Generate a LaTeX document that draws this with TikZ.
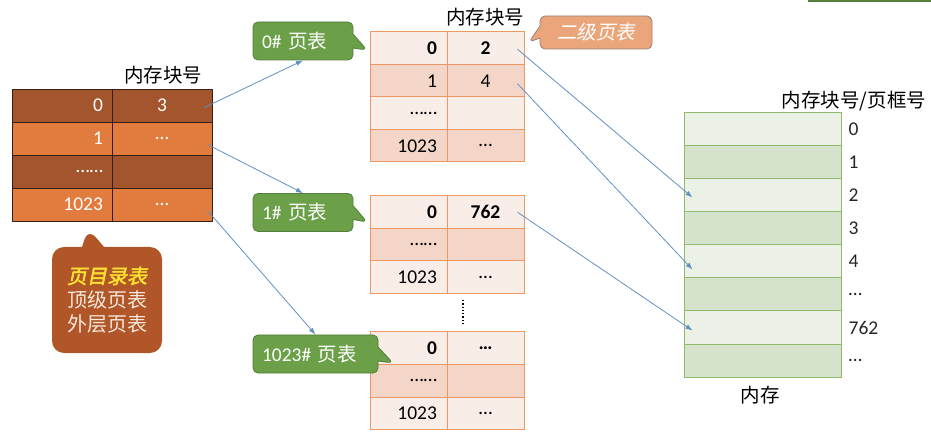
\documentclass[tikz,border=0pt]{standalone}
\usepackage{fontspec}
\setmainfont{Carlito}
\newfontfamily\cjk{Noto Sans CJK SC}
\newfontfamily\cjkslant[FakeSlant=0.2]{Noto Sans CJK SC}
\newfontfamily\cjkslantbold[FakeSlant=0.2,FakeBold=2]{Noto Sans CJK SC}
\usetikzlibrary{arrows.meta,shapes.callouts}
\definecolor{dirdark}{RGB}{163,86,46}
\definecolor{dirlight}{RGB}{225,124,62}
\definecolor{dirline}{RGB}{55,30,20}
\definecolor{dirnote}{RGB}{176,86,40}
\definecolor{notetext}{RGB}{246,232,218}
\definecolor{ylw}{RGB}{255,226,50}
\definecolor{ptlight}{RGB}{249,237,231}
\definecolor{ptdark}{RGB}{243,214,200}
\definecolor{ptline}{RGB}{237,152,98}
\definecolor{gfill}{RGB}{107,160,73}
\definecolor{gline}{RGB}{82,125,58}
\definecolor{ofill}{RGB}{234,166,122}
\definecolor{oline}{RGB}{150,130,120}
\definecolor{mlight}{RGB}{235,241,231}
\definecolor{mdark}{RGB}{214,227,204}
\definecolor{mline}{RGB}{145,186,106}
\definecolor{linkblue}{RGB}{95,145,195}

\begin{document}
\begin{tikzpicture}[x=1pt, y=-1pt, >={Latex[length=7pt,width=5pt]},
	every node/.style={font=\fontsize{19.5}{23}\selectfont},
	dircell/.style={draw=dirline, line width=0.8pt, minimum width=100pt, minimum height=33pt, inner sep=0pt, text=white},
	idx/.style={text width=82pt, align=right},
	ptcell/.style={draw=ptline, line width=1pt, minimum width=77pt, minimum height=32.5pt, inner sep=0pt},
	ptidx/.style={text width=57pt, align=right},
	mcell/.style={draw=mline, line width=1pt, minimum width=157pt, minimum height=33pt, inner sep=0pt},
	mlabel/.style={anchor=west, inner sep=0pt, text=black!85},
	gcall/.style={rectangle callout, draw=gline, fill=gfill, line width=0.8pt, rounded corners=5pt, text=white, minimum width=100pt, minimum height=38pt, inner xsep=9pt, text width=82pt, align=left, callout pointer width=14pt},
	link/.style={->, draw=linkblue, line width=0.8pt}]
	\useasboundingbox (0,0) rectangle (931,443);
	\draw[gfill!80!black, line width=2pt] (808,1) -- (931,1);

	% page directory
	\node (dhead) at (163,75) {\cjk 内存块号};
	\node[dircell, fill=dirdark, idx] (d0l) at (62,105.5) {0};
	\node[dircell, fill=dirdark] (d0r) at (162,105.5) {3};
	\node[dircell, fill=dirlight, idx] (d1l) at (62,138.5) {1};
	\node[dircell, fill=dirlight] (d1r) at (162,138.5) {…};
	\node[dircell, fill=dirdark, idx] (d2l) at (62,171.5) {……};
	\node[dircell, fill=dirdark] (d2r) at (162,171.5) {};
	\node[dircell, fill=dirlight, idx] (d3l) at (62,204.5) {1023};
	\node[dircell, fill=dirlight] (d3r) at (162,204.5) {…};
	\node[rectangle callout, fill=dirnote, rounded corners=12pt, minimum width=110pt, minimum height=106pt, align=center, text=notetext, callout absolute pointer={(88,228)}, callout pointer width=22pt, font=\fontsize{20}{24}\selectfont] (dnote) at (107,300) {{\cjkslantbold\color{ylw}页目录表}\\{\cjk 顶级页表}\\{\cjk 外层页表}};

	% page table 0
	\node (phead) at (485,17) {\cjk 内存块号};
	\node[ptcell, fill=ptlight, ptidx] (a0l) at (408.5,48.25) {\textbf{0}};
	\node[ptcell, fill=ptlight] (a0r) at (485.5,48.25) {\textbf{2}};
	\node[ptcell, fill=ptdark, ptidx] (a1l) at (408.5,80.75) {1};
	\node[ptcell, fill=ptdark] (a1r) at (485.5,80.75) {4};
	\node[ptcell, fill=ptlight, ptidx] (a2l) at (408.5,113.25) {……};
	\node[ptcell, fill=ptlight] (a2r) at (485.5,113.25) {};
	\node[ptcell, fill=ptdark, ptidx] (a3l) at (408.5,145.75) {1023};
	\node[ptcell, fill=ptdark] (a3r) at (485.5,145.75) {…};
	\node[gcall, callout absolute pointer={(367,50)}] (pt0) at (303,41) {0\# {\cjk 页表}};
	\node[rectangle callout, draw=oline, fill=ofill, line width=0.8pt, rounded corners=5pt, text=white, minimum width=112pt, minimum height=33pt, callout absolute pointer={(529,42)}, callout pointer width=12pt] (lvl2) at (596,32.5) {\cjkslant 二级页表};

	% page table 1
	\node[ptcell, fill=ptlight, ptidx] (b0l) at (408.5,212.25) {\textbf{0}};
	\node[ptcell, fill=ptlight] (b0r) at (485.5,212.25) {\textbf{762}};
	\node[ptcell, fill=ptdark, ptidx] (b1l) at (408.5,244.75) {……};
	\node[ptcell, fill=ptdark] (b1r) at (485.5,244.75) {};
	\node[ptcell, fill=ptlight, ptidx] (b2l) at (408.5,277.25) {1023};
	\node[ptcell, fill=ptlight] (b2r) at (485.5,277.25) {…};
	\node[gcall, callout absolute pointer={(367,222)}] (pt1) at (303,212.5) {1\# {\cjk 页表}};
	\draw[dotted, line width=1.3pt] (463,300) -- (463,326);

	% page table 1023
	\node[ptcell, fill=ptlight, ptidx] (c0l) at (408.5,348.25) {\textbf{0}};
	\node[ptcell, fill=ptlight] (c0r) at (485.5,348.25) {\textbf{…}};
	\node[ptcell, fill=ptdark, ptidx] (c1l) at (408.5,380.75) {……};
	\node[ptcell, fill=ptdark] (c1r) at (485.5,380.75) {};
	\node[ptcell, fill=ptlight, ptidx] (c2l) at (408.5,413.25) {1023};
	\node[ptcell, fill=ptlight] (c2r) at (485.5,413.25) {…};
	\node[gcall, minimum width=125pt, text width=107pt, callout absolute pointer={(393,363)}] (pt2) at (315.5,354) {1023\# {\cjk 页表}};

	% memory
	\node (mhead) at (854,101) {\cjk 内存块号/页框号};
	\node[mcell, fill=mlight, label={[mlabel, label distance=7pt]right:0}] (m0) at (762.5,129.5) {};
	\node[mcell, fill=mdark, label={[mlabel, label distance=7pt]right:1}] (m1) at (762.5,162.5) {};
	\node[mcell, fill=mlight, label={[mlabel, label distance=7pt]right:2}] (m2) at (762.5,195.5) {};
	\node[mcell, fill=mdark, label={[mlabel, label distance=7pt]right:3}] (m3) at (762.5,228.5) {};
	\node[mcell, fill=mlight, label={[mlabel, label distance=7pt]right:4}] (m4) at (762.5,261.5) {};
	\node[mcell, fill=mdark, label={[mlabel, label distance=7pt]right:…}] (m5) at (762.5,294.5) {};
	\node[mcell, fill=mlight, label={[mlabel, label distance=7pt]right:762}] (m6) at (762.5,327.5) {};
	\node[mcell, fill=mdark, label={[mlabel, label distance=7pt]right:…}] (m7) at (762.5,360.5) {};
	\node (mem) at (760,395) {\cjk 内存};

	% links
	\draw[link] ([shift={(-8,2)}]d0r.east) -- (pt0.south);
	\draw[link] ([shift={(-5,6)}]d1r.east) -- (pt1.north);
	\draw[link] ([shift={(-5,6)}]d3r.east) -- (pt2.north);
	\draw[link] ([shift={(-7,1)}]a0r.east) -- ([shift={(9,2)}]m2.west);
	\draw[link] ([shift={(-7,3)}]a1r.east) -- ([shift={(9,8)}]m4.west);
	\draw[link] ([shift={(-7,0)}]b0r.east) -- ([shift={(9,3)}]m6.west);
\end{tikzpicture}
\end{document}
